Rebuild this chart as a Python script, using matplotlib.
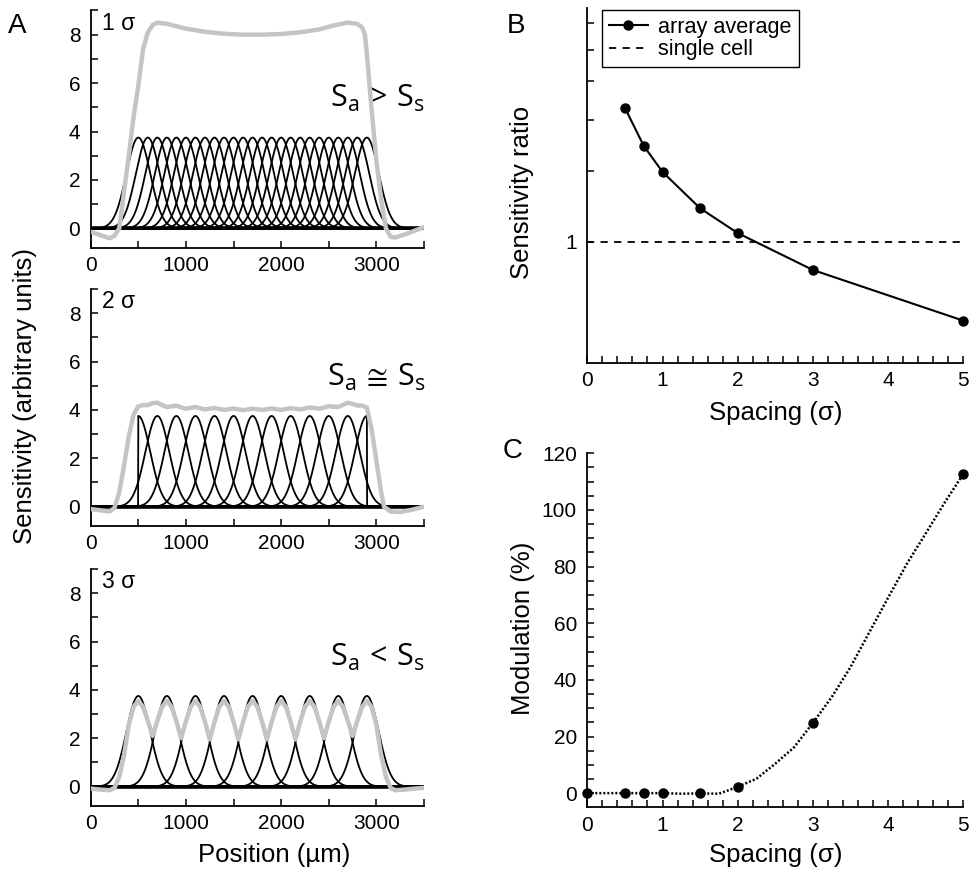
import numpy as np
import matplotlib
matplotlib.use('Agg')
import matplotlib.pyplot as plt
from matplotlib.ticker import FixedLocator, NullLocator

plt.rcParams['font.family'] = ['Liberation Sans', 'DejaVu Sans']
plt.rcParams['mathtext.fontset'] = 'custom'
plt.rcParams['mathtext.rm'] = 'Open Sans'
plt.rcParams['mathtext.it'] = 'Open Sans:italic'

# ---- panel A data: cell centres (um) for the three spacings
centres_1s = [500, 600, 700, 800, 900, 1000, 1100, 1200, 1300, 1400, 1500, 1600, 1700,
              1800, 1900, 2000, 2100, 2200, 2300, 2400, 2500, 2600, 2700, 2800, 2900]
centres_2s = [500, 700, 900, 1100, 1300, 1500, 1700, 1900, 2100, 2300, 2500, 2700, 2900]
centres_3s = [500, 800, 1100, 1400, 1700, 2000, 2300, 2600, 2900]
peak_height = 3.75
cell_sd = 125.0

# array average (gray)
avg_x_1s = [0, 100, 200, 250, 300, 350, 400, 450, 500, 550, 600, 650, 700, 800, 900, 1000,
            1200, 1400, 1600, 1800, 2000, 2200, 2400, 2550, 2700, 2800, 2850, 2880, 2900,
            2950, 3000, 3050, 3100, 3150, 3200, 3300, 3400, 3500]
avg_y_1s = [-0.14, -0.28, -0.41, -0.3, 0.0, 1.5, 3.0, 4.6, 5.9, 7.4, 8.1, 8.4, 8.5, 8.45,
            8.35, 8.25, 8.12, 8.04, 8.0, 8.0, 8.03, 8.1, 8.22, 8.38, 8.5, 8.45, 8.3, 8.0,
            7.2, 4.9, 2.8, 1.2, 0.0, -0.35, -0.38, -0.25, -0.1, 0.05]

avg_x_2s = [0, 100, 200, 250, 300, 350, 400, 450, 500, 550, 600, 650, 700, 750, 800, 850,
            900, 950, 1000, 1100, 1200, 1300, 1400, 1500, 1600, 1700, 1800, 1900, 2000,
            2100, 2200, 2300, 2400, 2500, 2600, 2700, 2750, 2800, 2850, 2900, 2950, 3000,
            3050, 3080, 3150, 3250, 3350, 3450, 3500]
avg_y_2s = [-0.1, -0.15, -0.2, -0.05, 0.6, 1.7, 2.9, 3.8, 4.15, 4.2, 4.2, 4.28, 4.3, 4.2,
            4.12, 4.15, 4.18, 4.1, 4.05, 4.12, 4.02, 4.08, 4.0, 4.06, 3.99, 4.05, 4.0, 4.06,
            4.0, 4.07, 4.02, 4.1, 4.05, 4.15, 4.12, 4.3, 4.25, 4.18, 4.18, 4.1, 3.2, 1.9,
            0.6, 0.0, -0.2, -0.22, -0.15, -0.05, 0.0]

avg_x_3s = [0, 100, 200, 250, 300, 350, 400, 450, 500, 550, 600, 650, 700, 750, 800, 850,
            900, 950, 1000, 1050, 1100, 1150, 1200, 1250, 1300, 1350, 1400, 1450, 1500,
            1550, 1600, 1650, 1700, 1750, 1800, 1850, 1900, 1950, 2000, 2050, 2100, 2150,
            2200, 2250, 2300, 2350, 2400, 2450, 2500, 2550, 2600, 2650, 2700, 2750, 2800,
            2850, 2900, 2950, 3000, 3050, 3100, 3150, 3200, 3300, 3400, 3500]
avg_y_3s = [-0.08, -0.12, -0.15, -0.05, 0.4, 1.3, 2.55, 3.3, 3.55, 3.3, 2.72, 2.1, 2.72,
            3.3, 3.55, 3.3, 2.7, 2.0, 2.7, 3.3, 3.55, 3.3, 2.68, 1.95, 2.68, 3.3, 3.55, 3.3,
            2.68, 1.95, 2.68, 3.3, 3.55, 3.3, 2.68, 1.95, 2.68, 3.3, 3.55, 3.3, 2.68, 1.95,
            2.68, 3.3, 3.55, 3.3, 2.7, 2.0, 2.7, 3.3, 3.55, 3.3, 2.72, 2.1, 2.72, 3.3, 3.55,
            3.3, 2.55, 1.3, 0.4, -0.05, -0.15, -0.12, -0.08, -0.05]

spacing_names = ['1 \u03c3', '2 \u03c3', '3 \u03c3']
relations = [r'$\mathrm{S_a\,>\,S_s}$', r'$\mathrm{S_a\,\cong\,S_s}$', r'$\mathrm{S_a\,<\,S_s}$']

# ---- panel B
spacing_b = [0.5, 0.75, 1, 1.5, 2, 3, 5]
ratio_b = [2.15, 1.73, 1.49, 1.21, 1.05, 0.85, 0.636]

# ---- panel C
spacing_c = [0, 0.5, 0.75, 1, 1.5, 2, 3, 5]
modulation_c = [0, 0, 0, 0, 0, 2.2, 24.8, 112.7]
curve_x_c = [0, 0.25, 0.5, 0.75, 1, 1.25, 1.5, 1.75, 2, 2.25, 2.5, 2.75, 3, 3.25, 3.5,
             3.75, 4, 4.25, 4.5, 4.75, 5]
curve_y_c = [0, 0, 0, 0, 0, -0.2, -0.1, -0.2, 2.2, 5.1, 10.4, 16.2, 24.8, 33.9, 44.5,
             56.8, 69, 81, 91.7, 102.5, 112.7]

W, H = 972, 871
fig = plt.figure(figsize=(W / 100, H / 100), dpi=100)


def add_ax(l, t, r, b):
    return fig.add_axes([l / W, 1 - b / H, (r - l) / W, (b - t) / H])


def style(ax):
    ax.spines['top'].set_visible(False)
    ax.spines['right'].set_visible(False)
    ax.spines['left'].set_linewidth(1.3)
    ax.spines['bottom'].set_linewidth(1.3)
    ax.tick_params(which='both', direction='in', length=5, width=1.1, labelsize=15)
    ax.tick_params(axis='x', which='both', pad=6)
    ax.tick_params(axis='y', which='both', pad=7.5)


# ---- panel A
x = np.linspace(0, 3500, 1401)
a_tops = [10.5, 289, 569]
a_bottoms = [247.7, 526, 806]
all_centres = [centres_1s, centres_2s, centres_3s]
avg_x = [avg_x_1s, avg_x_2s, avg_x_3s]
avg_y = [avg_y_1s, avg_y_2s, avg_y_3s]
truncate = [False, True, False]

for i in range(3):
    ax = add_ax(90.7, a_tops[i], 424, a_bottoms[i])
    style(ax)
    ax.axhline(0, color='k', lw=2.6, zorder=2)
    cs = all_centres[i]
    for j, c in enumerate(cs):
        y = peak_height * np.exp(-0.5 * ((x - c) / cell_sd) ** 2)
        if truncate[i] and j == 0:
            y = np.where(x < c, 0, y)
        if truncate[i] and j == len(cs) - 1:
            y = np.where(x > c, 0, y)
        ax.plot(x, y, color='k', lw=1.3, zorder=3)
    ax.plot(avg_x[i], avg_y[i], color='#c4c4c4', lw=3.2, zorder=4,
            solid_joinstyle='round', solid_capstyle='round')
    ax.set_xlim(0, 3500)
    ax.set_ylim(-0.8, 9)
    ax.xaxis.set_major_locator(FixedLocator([0, 1000, 2000, 3000]))
    ax.xaxis.set_minor_locator(FixedLocator([500, 1500, 2500, 3500]))
    ax.yaxis.set_major_locator(FixedLocator([0, 2, 4, 6, 8]))
    ax.yaxis.set_minor_locator(FixedLocator([1, 3, 5, 7, 9]))
    ax.text(0.035, 0.995, spacing_names[i], transform=ax.transAxes, ha='left', va='top',
            fontsize=16.5)
    ax.text(3510, 5.0, relations[i], ha='right', va='baseline', fontsize=22)

fig.text(25 / W, 1 - 396 / H, 'Sensitivity (arbitrary units)', rotation=90,
         ha='center', va='center', fontsize=18.5)
fig.text(274 / W, 1 - 855 / H, 'Position (\u00b5m)', ha='center', va='center', fontsize=18.5)

# ---- panel B
axb = add_ax(587.3, 8.3, 963.3, 362.7)
style(axb)
axb.set_yscale('log')
axb.axhline(1, color='k', lw=1.3, ls=(0, (4, 3.5)), label='single cell')
axb.plot(spacing_b, ratio_b, color='k', lw=1.5, marker='o', ms=6.5, clip_on=False,
         label='array average', zorder=5)
axb.set_xlim(0, 5)
axb.set_ylim(0.5, 3.8)
axb.xaxis.set_major_locator(FixedLocator([0, 1, 2, 3, 4, 5]))
axb.xaxis.set_minor_locator(FixedLocator(np.arange(0, 5.01, 0.2)))
axb.yaxis.set_major_locator(FixedLocator([1, 1.5, 2, 2.5, 3, 3.5]))
axb.yaxis.set_minor_locator(NullLocator())
axb.set_yticklabels(['1', '', '', '', '', ''])
h, l = axb.get_legend_handles_labels()
leg = axb.legend(h[::-1], l[::-1], loc='upper left', bbox_to_anchor=(0.038, 0.995),
                 borderaxespad=0, fontsize=15.6, frameon=True, fancybox=False,
                 edgecolor='k', framealpha=1, handlelength=1.8, handletextpad=0.5,
                 labelspacing=0.05, borderpad=0.32)
leg.get_frame().set_linewidth(1.0)
fig.text(522 / W, 1 - 192 / H, 'Sensitivity ratio', rotation=90, ha='center',
         va='center', fontsize=18.5)
fig.text(776 / W, 1 - 413 / H, 'Spacing (\u03c3)', ha='center', va='center', fontsize=18.5)

# ---- panel C
axc = add_ax(587.3, 453.3, 963.3, 807.3)
style(axc)
axc.plot(curve_x_c, curve_y_c, color='k', lw=1.8, ls=(0, (0.8, 0.8)), zorder=4)
axc.plot(spacing_c, modulation_c, 'o', color='k', ms=6.5, clip_on=False, zorder=5)
axc.set_xlim(0, 5)
axc.set_ylim(-5, 120)
axc.xaxis.set_major_locator(FixedLocator([0, 1, 2, 3, 4, 5]))
axc.xaxis.set_minor_locator(FixedLocator(np.arange(0, 5.01, 0.2)))
axc.yaxis.set_major_locator(FixedLocator([0, 20, 40, 60, 80, 100, 120]))
axc.yaxis.set_minor_locator(FixedLocator(np.arange(0, 121, 5)))
fig.text(523 / W, 1 - 628 / H, 'Modulation (%)', rotation=90, ha='center',
         va='center', fontsize=18.5)
fig.text(776 / W, 1 - 855 / H, 'Spacing (\u03c3)', ha='center', va='center', fontsize=18.5)

# panel letters
fig.text(8 / W, 1 - 33 / H, 'A', ha='left', va='baseline', fontsize=20)
fig.text(507 / W, 1 - 33 / H, 'B', ha='left', va='baseline', fontsize=20)
fig.text(503 / W, 1 - 458 / H, 'C', ha='left', va='baseline', fontsize=20)

fig.savefig('out.png', dpi=100)
